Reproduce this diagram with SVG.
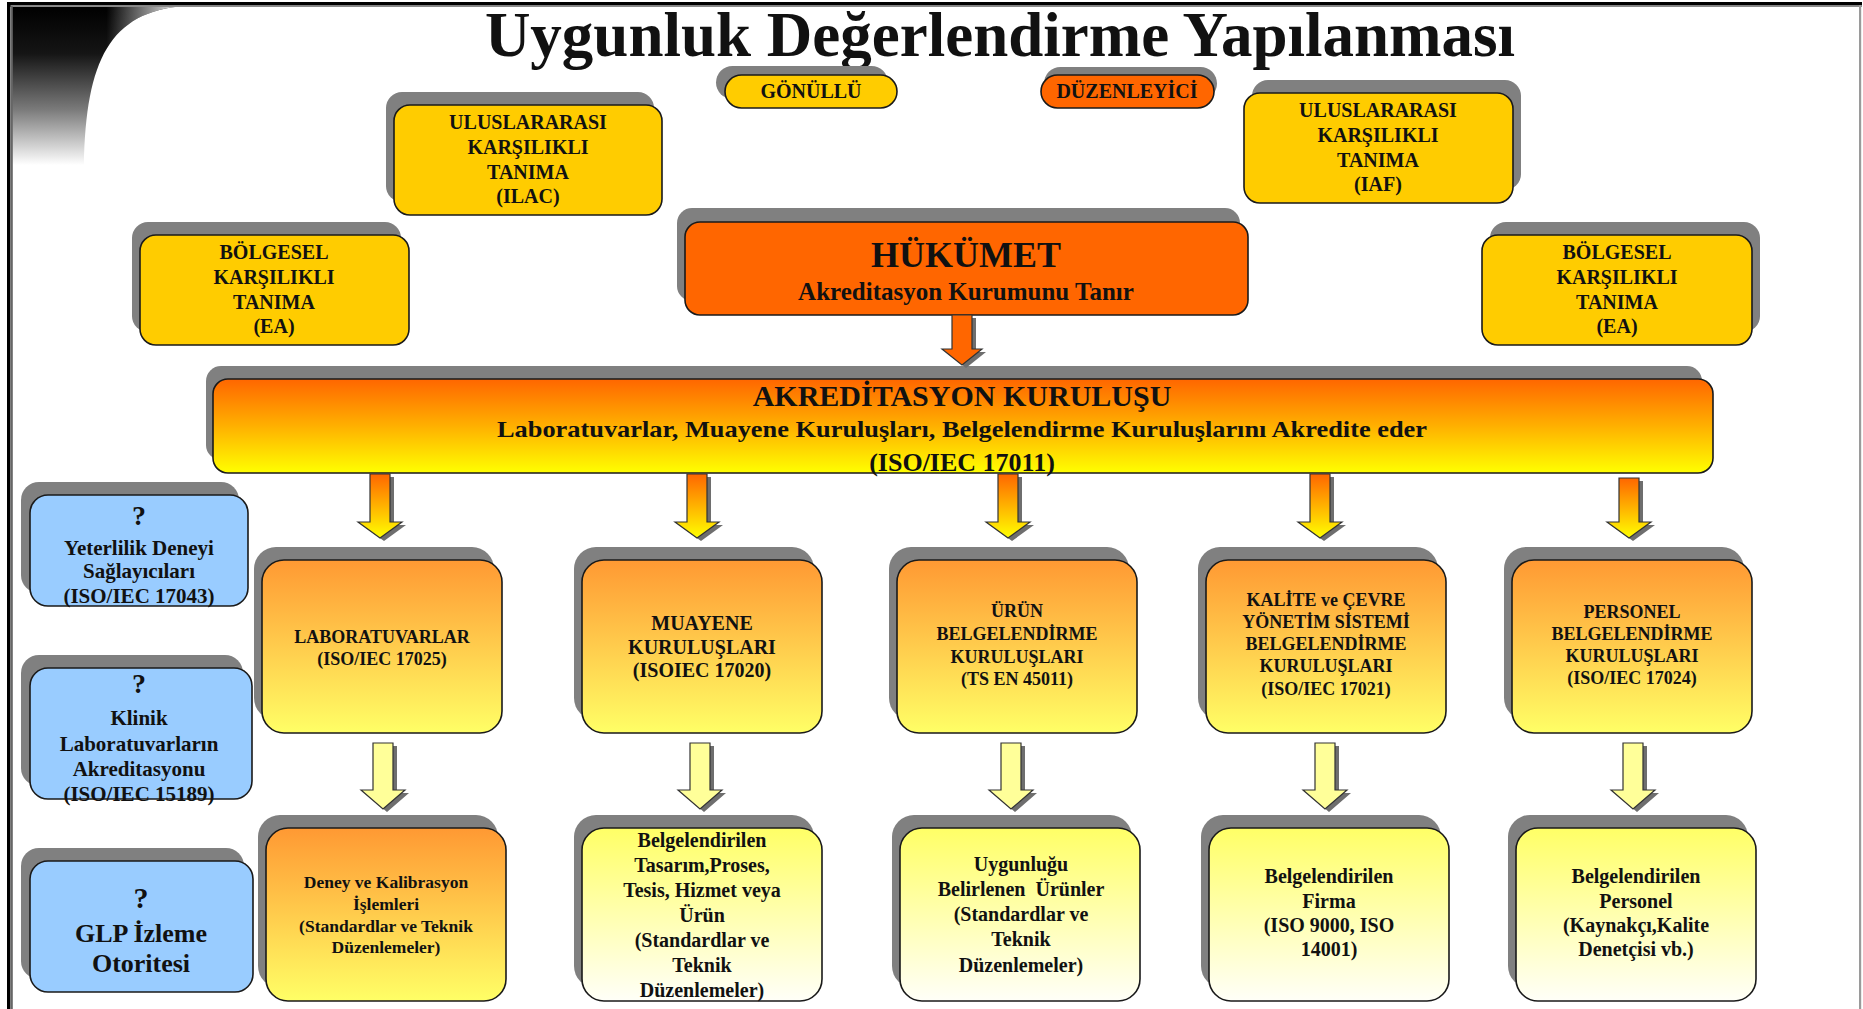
<svg xmlns="http://www.w3.org/2000/svg" width="1863" height="1009" viewBox="0 0 1863 1009">
<style>
  text { font-family: "Liberation Serif", "Times New Roman", serif; font-weight: bold; fill: #111; text-anchor: middle; }
  .sh { fill: #808080; }
  .bx { stroke: #1a1a1a; stroke-width: 1.6; }
  .yel { fill: #FFCC00; }
  .org { fill: #FF6600; }
  .blu { fill: #99CCFF; }
  .mid { fill: url(#gMid); }
  .low { fill: url(#gLow); }
  .ash { fill: #6e6e6e; }
  .a1 { fill: url(#gArr); stroke: #333; stroke-width: 1.2; }
  .a2 { fill: #FFFF99; stroke: #333; stroke-width: 1.2; }
  .a0 { fill: #FF6600; stroke: #333; stroke-width: 1.2; }
  .t21 { font-size: 21px; }
  .t20 { font-size: 20px; }
  .t18 { font-size: 18px; }
</style>
<defs>
  <linearGradient id="gCorner" x1="0" y1="0" x2="0" y2="1">
    <stop offset="0" stop-color="#000"/>
    <stop offset="0.3" stop-color="#151515"/>
    <stop offset="0.65" stop-color="#7a7a7a"/>
    <stop offset="1" stop-color="#fff"/>
  </linearGradient>
  <linearGradient id="gCornerH" x1="0" y1="0" x2="1" y2="0">
    <stop offset="0.55" stop-color="#fff" stop-opacity="0"/>
    <stop offset="1" stop-color="#fff" stop-opacity="1"/>
  </linearGradient>
  <linearGradient id="gAkr" x1="0" y1="0" x2="0" y2="1">
    <stop offset="0" stop-color="#FF6600"/>
    <stop offset="0.5" stop-color="#FFB000"/>
    <stop offset="1" stop-color="#FFFF00"/>
  </linearGradient>
  <linearGradient id="gMid" x1="0" y1="0" x2="0" y2="1">
    <stop offset="0" stop-color="#FF9933"/>
    <stop offset="1" stop-color="#FFFF66"/>
  </linearGradient>
  <linearGradient id="gLow" x1="0" y1="0" x2="0" y2="1">
    <stop offset="0" stop-color="#FFFF66"/>
    <stop offset="1" stop-color="#FFFFF8"/>
  </linearGradient>
  <linearGradient id="gArr" x1="0" y1="0" x2="0" y2="1">
    <stop offset="0" stop-color="#FF6600"/>
    <stop offset="1" stop-color="#FFFF00"/>
  </linearGradient>
</defs>

<rect width="1863" height="1009" fill="#fff"/>

<!-- frame and corner decoration -->
<g id="frame">
  <path d="M12,6 H184 C110,12 86,60 84,165 H12 Z" fill="url(#gCorner)"/>
  <path d="M12,6 H184 C110,12 86,60 84,165 H12 Z" fill="url(#gCornerH)"/>
  <rect x="7" y="2" width="1855" height="3.5" fill="#000"/>
  <rect x="7" y="5.5" width="1855" height="1.5" fill="#8a8a8a"/>
  <rect x="7" y="2" width="3.5" height="1007" fill="#000"/>
  <rect x="11" y="6" width="1.8" height="1003" fill="#666"/>
  <rect x="1859" y="5" width="2.2" height="1004" fill="#9a9a9a"/>
</g>

<text id="title" x="1000" y="56" style="font-size:63px">Uygunluk Değerlendirme Yapılanması</text>

<g id="gonullu">
  <rect class="sh" x="716" y="66" width="172" height="33" rx="16.5"/>
  <rect class="bx yel" x="725" y="75" width="172" height="33" rx="16.5"/>
  <text x="811" y="98" class="t20">GÖNÜLLÜ</text>
</g>
<g id="duzenleyici">
  <rect class="sh" x="1044" y="67" width="173" height="33" rx="16.5"/>
  <rect class="bx org" x="1041" y="75" width="173" height="33" rx="16.5"/>
  <text x="1127" y="98" class="t20">DÜZENLEYİCİ</text>
</g>

<g id="ilac">
  <rect class="sh" x="386" y="92" width="268" height="110" rx="16"/>
  <rect class="bx yel" x="394" y="105" width="268" height="110" rx="16"/>
  <text class="t20"><tspan x="528" y="129">ULUSLARARASI</tspan><tspan x="528" y="154">KARŞILIKLI</tspan><tspan x="528" y="179">TANIMA</tspan><tspan x="528" y="203">(ILAC)</tspan></text>
</g>
<g id="iaf">
  <rect class="sh" x="1252" y="80" width="269" height="110" rx="16"/>
  <rect class="bx yel" x="1244" y="93" width="269" height="110" rx="16"/>
  <text class="t20"><tspan x="1378" y="117">ULUSLARARASI</tspan><tspan x="1378" y="142">KARŞILIKLI</tspan><tspan x="1378" y="167">TANIMA</tspan><tspan x="1378" y="191">(IAF)</tspan></text>
</g>
<g id="ea-left">
  <rect class="sh" x="132" y="222" width="269" height="110" rx="16"/>
  <rect class="bx yel" x="140" y="235" width="269" height="110" rx="16"/>
  <text class="t20"><tspan x="274" y="259">BÖLGESEL</tspan><tspan x="274" y="284">KARŞILIKLI</tspan><tspan x="274" y="309">TANIMA</tspan><tspan x="274" y="333">(EA)</tspan></text>
</g>
<g id="ea-right">
  <rect class="sh" x="1490" y="222" width="270" height="110" rx="16"/>
  <rect class="bx yel" x="1482" y="235" width="270" height="110" rx="16"/>
  <text class="t20"><tspan x="1617" y="259">BÖLGESEL</tspan><tspan x="1617" y="284">KARŞILIKLI</tspan><tspan x="1617" y="309">TANIMA</tspan><tspan x="1617" y="333">(EA)</tspan></text>
</g>

<g id="hukumet">
  <rect class="sh" x="677" y="208" width="563" height="93" rx="15"/>
  <rect class="bx org" x="685" y="222" width="563" height="93" rx="15"/>
  <text x="966" y="267" style="font-size:36px">HÜKÜMET</text>
  <text x="966" y="300" style="font-size:25px">Akreditasyon Kurumunu Tanır</text>
</g>

<g id="akreditasyon">
  <rect class="sh" x="206" y="366" width="1496" height="94" rx="15"/>
  <rect class="bx" x="213" y="379" width="1500" height="94" rx="15" fill="url(#gAkr)"/>
  <text x="962" y="406" style="font-size:30px">AKREDİTASYON KURULUŞU</text>
  <text x="962" y="437" style="font-size:23px" textLength="930" lengthAdjust="spacingAndGlyphs">Laboratuvarlar, Muayene Kuruluşları, Belgelendirme Kuruluşlarını Akredite eder</text>
  <text x="962" y="471" style="font-size:26px">(ISO/IEC 17011)</text>
</g>

<g id="yeterlilik">
  <rect class="sh" x="21" y="482" width="218" height="111" rx="18"/>
  <rect class="bx blu" x="30" y="495" width="218" height="111" rx="18"/>
  <text x="139" y="525" style="font-size:28px">?</text>
  <text class="t21"><tspan x="139" y="555">Yeterlilik Deneyi</tspan><tspan x="139" y="578">Sağlayıcıları</tspan><tspan x="139" y="603">(ISO/IEC 17043)</tspan></text>
</g>
<g id="klinik">
  <rect class="sh" x="21" y="655" width="222" height="131" rx="18"/>
  <rect class="bx blu" x="30" y="668" width="222" height="131" rx="18"/>
  <text x="139" y="693" style="font-size:28px">?</text>
  <text class="t21"><tspan x="139" y="725">Klinik</tspan><tspan x="139" y="751">Laboratuvarların</tspan><tspan x="139" y="776">Akreditasyonu</tspan><tspan x="139" y="801">(ISO/IEC 15189)</tspan></text>
</g>
<g id="glp">
  <rect class="sh" x="21" y="848" width="223" height="131" rx="18"/>
  <rect class="bx blu" x="30" y="861" width="223" height="131" rx="18"/>
  <text x="141" y="908" style="font-size:30px">?</text>
  <text style="font-size:26px"><tspan x="141" y="942">GLP İzleme</tspan><tspan x="141" y="972">Otoritesi</tspan></text>
</g>

<g id="laboratuvarlar">
  <rect class="sh" x="254" y="547" width="240" height="173" rx="22"/>
  <rect class="bx mid" x="262" y="560" width="240" height="173" rx="22"/>
  <text class="t18"><tspan x="382" y="643">LABORATUVARLAR</tspan><tspan x="382" y="665">(ISO/IEC 17025)</tspan></text>
</g>
<g id="muayene">
  <rect class="sh" x="574" y="547" width="240" height="173" rx="22"/>
  <rect class="bx mid" x="582" y="560" width="240" height="173" rx="22"/>
  <text class="t20"><tspan x="702" y="630">MUAYENE</tspan><tspan x="702" y="654">KURULUŞLARI</tspan><tspan x="702" y="677">(ISOIEC 17020)</tspan></text>
</g>
<g id="urun">
  <rect class="sh" x="889" y="547" width="240" height="173" rx="22"/>
  <rect class="bx mid" x="897" y="560" width="240" height="173" rx="22"/>
  <text class="t18"><tspan x="1017" y="617">ÜRÜN</tspan><tspan x="1017" y="640">BELGELENDİRME</tspan><tspan x="1017" y="663">KURULUŞLARI</tspan><tspan x="1017" y="685">(TS EN 45011)</tspan></text>
</g>
<g id="kalite">
  <rect class="sh" x="1198" y="547" width="240" height="173" rx="22"/>
  <rect class="bx mid" x="1206" y="560" width="240" height="173" rx="22"/>
  <text class="t18"><tspan x="1326" y="606">KALİTE ve ÇEVRE</tspan><tspan x="1326" y="628">YÖNETİM SİSTEMİ</tspan><tspan x="1326" y="650">BELGELENDİRME</tspan><tspan x="1326" y="672">KURULUŞLARI</tspan><tspan x="1326" y="695">(ISO/IEC 17021)</tspan></text>
</g>
<g id="personel">
  <rect class="sh" x="1504" y="547" width="240" height="173" rx="22"/>
  <rect class="bx mid" x="1512" y="560" width="240" height="173" rx="22"/>
  <text class="t18"><tspan x="1632" y="618">PERSONEL</tspan><tspan x="1632" y="640">BELGELENDİRME</tspan><tspan x="1632" y="662">KURULUŞLARI</tspan><tspan x="1632" y="684">(ISO/IEC 17024)</tspan></text>
</g>

<g id="deney">
  <rect class="sh" x="258" y="815" width="240" height="173" rx="22"/>
  <rect class="bx mid" x="266" y="828" width="240" height="173" rx="22"/>
  <text style="font-size:17.5px"><tspan x="386" y="888">Deney ve Kalibrasyon</tspan><tspan x="386" y="910">İşlemleri</tspan><tspan x="386" y="932">(Standardlar ve Teknik</tspan><tspan x="386" y="953">Düzenlemeler)</tspan></text>
</g>
<g id="tasarim">
  <rect class="sh" x="574" y="815" width="240" height="173" rx="22"/>
  <rect class="bx low" x="582" y="828" width="240" height="173" rx="22"/>
  <text class="t20"><tspan x="702" y="847">Belgelendirilen</tspan><tspan x="702" y="872">Tasarım,Proses,</tspan><tspan x="702" y="897">Tesis, Hizmet veya</tspan><tspan x="702" y="922">Ürün</tspan><tspan x="702" y="947">(Standardlar ve</tspan><tspan x="702" y="972">Teknik</tspan><tspan x="702" y="997">Düzenlemeler)</tspan></text>
</g>
<g id="urunler">
  <rect class="sh" x="892" y="815" width="240" height="173" rx="22"/>
  <rect class="bx low" x="900" y="828" width="240" height="173" rx="22"/>
  <text class="t20"><tspan x="1021" y="871">Uygunluğu</tspan><tspan x="1021" y="896">Belirlenen&#160; Ürünler</tspan><tspan x="1021" y="921">(Standardlar ve</tspan><tspan x="1021" y="946">Teknik</tspan><tspan x="1021" y="972">Düzenlemeler)</tspan></text>
</g>
<g id="firma">
  <rect class="sh" x="1201" y="815" width="240" height="173" rx="22"/>
  <rect class="bx low" x="1209" y="828" width="240" height="173" rx="22"/>
  <text class="t20"><tspan x="1329" y="883">Belgelendirilen</tspan><tspan x="1329" y="908">Firma</tspan><tspan x="1329" y="932">(ISO 9000, ISO</tspan><tspan x="1329" y="956">14001)</tspan></text>
</g>
<g id="belg-personel">
  <rect class="sh" x="1508" y="815" width="240" height="173" rx="22"/>
  <rect class="bx low" x="1516" y="828" width="240" height="173" rx="22"/>
  <text class="t20"><tspan x="1636" y="883">Belgelendirilen</tspan><tspan x="1636" y="908">Personel</tspan><tspan x="1636" y="932">(Kaynakçı,Kalite</tspan><tspan x="1636" y="956">Denetçisi vb.)</tspan></text>
</g>

<g id="connectors">
  <!-- HÜKÜMET -> AKREDİTASYON -->
  <path class="ash" d="M956,318 H976 V352 H986 L966,368 L946,352 H956 Z"/>
  <path class="a0" d="M952,315 H972 V349 H982 L962,365 L942,349 H952 Z"/>
  <!-- AKREDİTASYON -> row 2 -->
  <path class="ash" d="M374,477 H394 V525 H406 L384,541 L362,525 H374 Z"/>
  <path class="a1" d="M370,474 H390 V522 H402 L380,538 L358,522 H370 Z"/>
  <path class="ash" d="M691,477 H711 V525 H723 L701,541 L679,525 H691 Z"/>
  <path class="a1" d="M687,474 H707 V522 H719 L697,538 L675,522 H687 Z"/>
  <path class="ash" d="M1002,477 H1022 V525 H1034 L1012,541 L990,525 H1002 Z"/>
  <path class="a1" d="M998,474 H1018 V522 H1030 L1008,538 L986,522 H998 Z"/>
  <path class="ash" d="M1314,477 H1334 V525 H1346 L1324,541 L1302,525 H1314 Z"/>
  <path class="a1" d="M1310,474 H1330 V522 H1342 L1320,538 L1298,522 H1310 Z"/>
  <path class="ash" d="M1623,481 H1643 V525 H1655 L1633,541 L1611,525 H1623 Z"/>
  <path class="a1" d="M1619,478 H1639 V522 H1651 L1629,538 L1607,522 H1619 Z"/>
  <!-- row 2 -> row 3 -->
  <path class="ash" d="M377,746 H397 V793 H409 L387,812 L365,793 H377 Z"/>
  <path class="a2" d="M373,743 H393 V790 H405 L383,809 L361,790 H373 Z"/>
  <path class="ash" d="M694,746 H714 V793 H726 L704,812 L682,793 H694 Z"/>
  <path class="a2" d="M690,743 H710 V790 H722 L700,809 L678,790 H690 Z"/>
  <path class="ash" d="M1005,746 H1025 V793 H1037 L1015,812 L993,793 H1005 Z"/>
  <path class="a2" d="M1001,743 H1021 V790 H1033 L1011,809 L989,790 H1001 Z"/>
  <path class="ash" d="M1319,746 H1339 V793 H1351 L1329,812 L1307,793 H1319 Z"/>
  <path class="a2" d="M1315,743 H1335 V790 H1347 L1325,809 L1303,790 H1315 Z"/>
  <path class="ash" d="M1627,746 H1647 V793 H1659 L1637,812 L1615,793 H1627 Z"/>
  <path class="a2" d="M1623,743 H1643 V790 H1655 L1633,809 L1611,790 H1623 Z"/>
</g>
</svg>
